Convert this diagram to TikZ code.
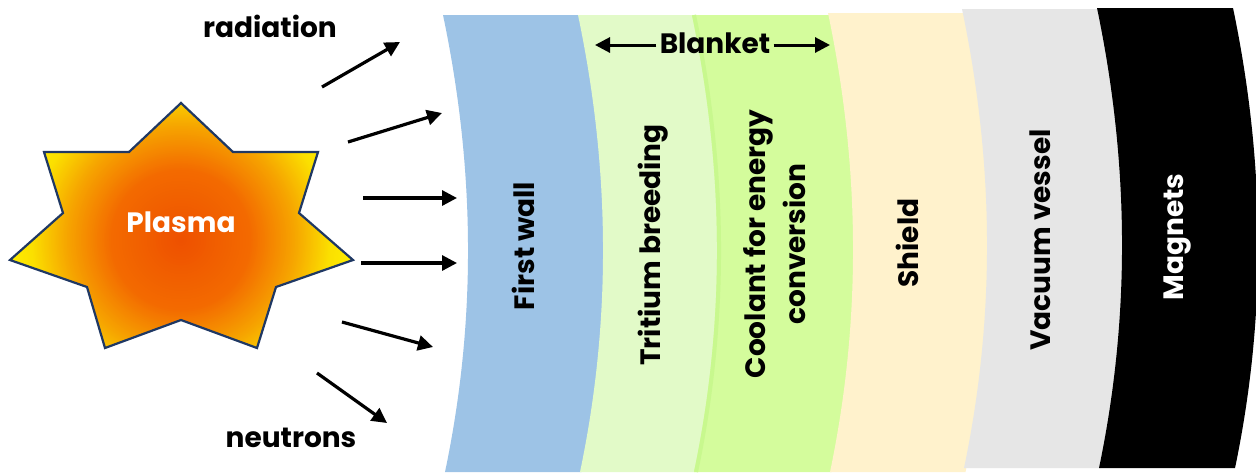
\documentclass[tikz,border=0pt]{standalone}
\usepackage{fontspec}
\setmainfont{Poppins}
\usetikzlibrary{arrows.meta}

\definecolor{wallblue}{HTML}{9DC3E6}
\definecolor{tritgreen}{HTML}{E2FAC8}
\definecolor{coolgreen}{HTML}{D4FC9C}
\definecolor{coolrim}{HTML}{C8F88E}
\definecolor{shieldcream}{HTML}{FFF2CC}
\definecolor{vesselgrey}{HTML}{E6E6E6}
\definecolor{starrim}{HTML}{1F3864}
\definecolor{plA}{HTML}{EE5000}
\definecolor{plB}{HTML}{F36A00}
\definecolor{plC}{HTML}{F6A400}
\definecolor{plD}{HTML}{FBE000}
\definecolor{plE}{HTML}{FFF200}

% one curved layer: left top x, right top x, top y, bottom y, fill
\newcommand{\shell}[5]{%
  \fill[#5] (#1,#3)
    .. controls ({#1+32},{#3+(#4-#3)/3}) and ({#1+34},{#4-(#4-#3)/3}) .. ({#1+2},#4)
    -- ({#2+2},#4)
    .. controls ({#2+34},{#4-(#4-#3)/3}) and ({#2+32},{#3+(#4-#3)/3}) .. (#2,#3)
    -- cycle;}

\tikzset{
  lbl/.style={font=\bfseries\fontsize{14}{20}\selectfont, text=black, inner sep=0pt},
  ray/.style={line width=1.6pt, -{Triangle[length=7.5pt,width=7.5pt]}},
  span/.style={line width=1.5pt, -{Triangle[length=7.5pt,width=7.5pt]}},
}

\begin{document}
\begin{tikzpicture}[x=0.5pt,y=-0.5pt]
\useasboundingbox (0,0) rectangle (1256,472);
\fill[white] (0,0) rectangle (1256,472);

% layers, inner to outer
\shell{443}{579.5}{15}{472}{wallblue}
\shell{578}{693.5}{15}{472}{tritgreen}
\shell{692}{829.5}{15}{472}{coolgreen}
\draw[coolrim, line width=2pt] (694,15)
  .. controls (726,167) and (728,320) .. (696,472);
\shell{828}{963.5}{13}{472}{shieldcream}
\shell{962}{1098.5}{9}{468}{vesselgrey}
\shell{1097}{1233}{8}{468}{black}

% plasma star with a glow that fades from the core to the tips
\def\starpath{(181,103) -- (233,152) -- (318,152) -- (299,213) -- (353,260)
  -- (276,287) -- (257,348) -- (181,320) -- (105,348) -- (87,287)
  -- (10,260) -- (63,213) -- (44,152) -- (129,152) -- cycle}
\begin{scope}
  \clip \starpath;
  \foreach \ro/\ri/\co/\ci in {180/150/plE/plD, 150/114/plD/plC,
                               114/70/plC/plB, 70/0/plB/plA}{
    \foreach \t in {0,4,...,96}{
      \fill[\ci!\t!\co] (181,240) circle ({\ro-(\ro-\ri)*\t/100});
    }
  }
\end{scope}
\draw[starrim, line width=1.1pt, line join=miter] \starpath;
\node[lbl, text=white] (plasma) at (181,222) {Plasma};

% emitted rays
\coordinate (r1s) at (322,87);  \coordinate (r1e) at (400,42);
\coordinate (r2s) at (348,142); \coordinate (r2e) at (442,113);
\coordinate (r3s) at (363,198); \coordinate (r3e) at (457,198);
\coordinate (r4s) at (361,263); \coordinate (r4e) at (457,263);
\coordinate (r5s) at (342,322); \coordinate (r5e) at (433,347);
\coordinate (r6s) at (317,373); \coordinate (r6e) at (387,423);
\foreach \i in {1,...,6} \draw[ray] (r\i s) -- (r\i e);

\node[lbl, anchor=base] (radiation) at (270,37) {radiation};
\node[lbl, anchor=base] (neutrons) at (291,447) {neutrons};

% blanket span
\node[lbl, anchor=base] (blanket) at (715,53) {Blanket};
\coordinate (bl) at (595,45);
\coordinate (br) at (830,45);
\draw[span] (blanket.west |- bl) ++(-3,0) -- (bl);
\draw[span] (blanket.east |- br) ++(3,0) -- (br);

% layer labels
\node[lbl, rotate=90] (wall) at (523,246) {First wall};
\node[lbl, rotate=90] (trit) at (653,245) {Tritium breeding};
\node[lbl, rotate=90, align=center] (cool) at (775,244) {Coolant for energy\\conversion};
\node[lbl, rotate=90] (shield) at (907,243) {Shield};
\node[lbl, rotate=90] (vessel) at (1040,240) {Vacuum vessel};
\node[lbl, rotate=90, text=white] (magnets) at (1177,237) {Magnets};
\end{tikzpicture}
\end{document}
